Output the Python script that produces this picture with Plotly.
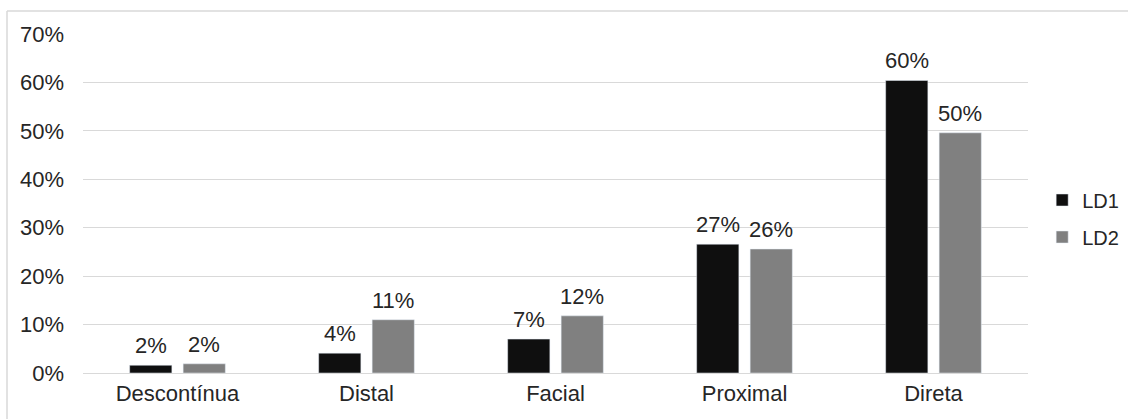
import plotly.graph_objects as go

categories = ["Descontínua", "Distal", "Facial", "Proximal", "Direta"]
ld1 = [0.016, 0.041, 0.07, 0.266, 0.604]
ld2 = [0.019, 0.11, 0.118, 0.256, 0.496]
y_ticks = [0, 0.1, 0.2, 0.3, 0.4, 0.5, 0.6, 0.7]

FONT = "Liberation Sans, Arial, sans-serif"
TEXT = "#262626"

W, H = 1128, 419
L, R, T, B = 83, 100, 34, 46
pw, ph = W - L - R, H - T - B

BARGAP, GROUPGAP = 0.434, 0.211
# half of one bar slot in pixels: offset of each bar centre from its category centre
slot_half = (pw / len(categories)) * (1 - BARGAP) / 4


def px(x):
    return (x - L) / pw


def py(y):
    return (H - B - y) / ph


fig = go.Figure()
fig.add_trace(go.Bar(name="LD1", x=categories, y=ld1, marker_color="#0f0f0f",
                     legendgroup="a"))
fig.add_trace(go.Bar(name="LD2", x=categories, y=ld2, marker_color="#808080",
                     legendgroup="b"))

# value labels above each bar
annotations = []
for series, shift in ((ld1, -slot_half), (ld2, slot_half)):
    for cat, v in zip(categories, series):
        annotations.append(dict(
            x=cat, y=v, xref="x", yref="y", text=f"{v:.0%}",
            showarrow=False, xanchor="center", yanchor="bottom",
            xshift=shift, yshift=5,
            font=dict(size=22, color=TEXT, family=FONT),
        ))

fig.update_layout(
    width=W, height=H,
    margin=dict(l=L, r=R, t=T, b=B, pad=0, autoexpand=False),
    paper_bgcolor="white", plot_bgcolor="white",
    font=dict(family=FONT, size=22, color=TEXT),
    barmode="group", bargap=BARGAP, bargroupgap=GROUPGAP,
    showlegend=True,
    legend=dict(
        x=1.015, y=py(218.5), xanchor="left", yanchor="middle",
        font=dict(size=20, color=TEXT, family=FONT),
        itemwidth=30, tracegroupgap=8, bgcolor="rgba(0,0,0,0)",
    ),
    xaxis=dict(
        showgrid=False, showline=False, zeroline=False, ticks="",
        tickfont=dict(size=22, color=TEXT), ticklabelstandoff=5,
    ),
    yaxis=dict(
        range=[0, 0.7], tickvals=y_ticks, tickformat=".0%",
        showgrid=True, gridcolor="#d9d9d9", gridwidth=1.3,
        zeroline=True, zerolinecolor="#d9d9d9", zerolinewidth=1.3,
        showline=False, ticks="", ticklabelstandoff=18,
        tickfont=dict(size=22, color=TEXT),
    ),
    annotations=annotations,
    shapes=[
        dict(type="line", xref="paper", yref="paper",
             x0=px(7), x1=px(W + 40), y0=py(11), y1=py(11),
             line=dict(color="#d9d9d9", width=1.5)),
        dict(type="line", xref="paper", yref="paper",
             x0=px(7), x1=px(7), y0=py(11), y1=py(H + 40),
             line=dict(color="#d9d9d9", width=1.5)),
    ],
)

fig.write_html("out.html")
